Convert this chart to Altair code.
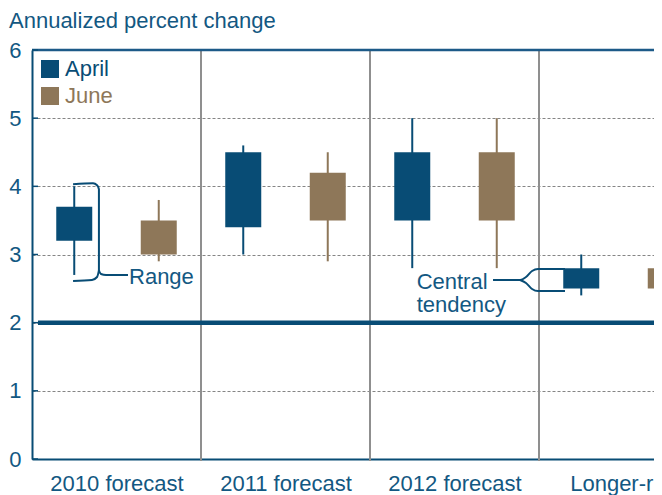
import json
import altair as alt
import pandas as pd

# ---------------- data ----------------
categories = ["2010 forecast", "2011 forecast", "2012 forecast", "Longer-run"]
series = ["April", "June"]
april_range_low = [2.7, 3.0, 2.8, 2.4]
april_range_high = [4.0, 4.6, 5.0, 3.0]
april_ct_low = [3.2, 3.4, 3.5, 2.5]
april_ct_high = [3.7, 4.5, 4.5, 2.8]
june_range_low = [2.9, 2.9, 2.8, 2.4]
june_range_high = [3.8, 4.5, 5.0, 3.0]
june_ct_low = [3.0, 3.5, 3.5, 2.5]
june_ct_high = [3.5, 4.2, 4.5, 2.8]
y_ticks = [0, 1, 2, 3, 4, 5, 6]
reference_value = [2]
separators = [1, 2, 3]

# annotation brackets (category units, percent units)
range_path_x = [0.243, 0.361, 0.385, 0.396, 0.396, 0.408, 0.438, 0.568]
range_path_y = [4.03, 4.044, 4.015, 3.956, 2.768, 2.714, 2.699, 2.699]
range_low_x = [0.396, 0.385, 0.355, 0.243]
range_low_y = [2.768, 2.670, 2.626, 2.611]
ct_up_x = [2.728, 2.888, 2.923, 2.959, 2.994, 3.154]
ct_up_y = [2.626, 2.626, 2.670, 2.758, 2.787, 2.787]
ct_dn_x = [2.888, 2.923, 2.959, 2.994, 3.154]
ct_dn_y = [2.626, 2.582, 2.494, 2.464, 2.464]
labels_text = ["Range", "Central", "tendency"]
labels_x = [0.574, 2.276, 2.276]
labels_y = [2.67, 2.60, 2.26]

# ---------------- style ----------------
BLUE = "#084c75"
BORDER = "#1c5a88"
TAN = "#8e7759"
TXT = "#135882"
FONT = "Liberation Sans"
FS = 22
PX_PER_CAT = 169
W = 622
H = 409
XMAX = W / PX_PER_CAT

rows = []
for i, c in enumerate(categories):
    rows.append(dict(cat=c, series="April", pos=i + 0.25, rlo=april_range_low[i],
                     rhi=april_range_high[i], clo=april_ct_low[i], chi=april_ct_high[i]))
    rows.append(dict(cat=c, series="June", pos=i + 0.75, rlo=june_range_low[i],
                     rhi=june_range_high[i], clo=june_ct_low[i], chi=june_ct_high[i]))
df = pd.DataFrame(rows)

xs = alt.Scale(domain=[0, XMAX], nice=False, zero=False, padding=0)
ys = alt.Scale(domain=[0, 6], nice=False, zero=False, padding=0)
color = alt.Color("series:N", scale=alt.Scale(domain=series, range=[BLUE, TAN]), legend=None)

label_expr = json.dumps(categories) + "[floor(datum.value)]"

x_axis = alt.Axis(values=[0.5, 1.5, 2.5, 3.5], labelExpr=label_expr, ticks=False, grid=False,
                  domainColor=BLUE, domainWidth=2, labelFontSize=FS, labelColor=TXT,
                  labelFont=FONT, labelPadding=14, labelFlush=False, labelOverlap=False,
                  title=None)
y_axis = alt.Axis(values=y_ticks, ticks=False, grid=True, gridDash=[3, 2], gridColor="#858585",
                  gridWidth=1, domainColor=BLUE, domainWidth=2, labelFontSize=FS,
                  labelColor=TXT, labelFont=FONT, labelPadding=11, title=None)


def X(f):
    return alt.X(f, scale=xs, axis=x_axis)


def Y(f):
    return alt.Y(f, scale=ys, axis=y_axis)


base = alt.Chart(df)

seps = alt.Chart(pd.DataFrame({"s": separators})).mark_rule(color="#8f8f8f", strokeWidth=2).encode(
    x=X("s:Q"), y=alt.value(0), y2=alt.value(H + 2))

top_border = alt.Chart(pd.DataFrame({"t": [6]})).mark_rule(color=BORDER, strokeWidth=2.5).encode(
    y=Y("t:Q"), x=alt.value(0), x2=alt.value(W))

ytick_rules = alt.Chart(pd.DataFrame({"t": y_ticks})).mark_rule(color=BLUE, strokeWidth=1.5).encode(
    y=Y("t:Q"), x=alt.value(0), x2=alt.value(6))

ref_line = alt.Chart(pd.DataFrame({"r": reference_value})).mark_rule(color=BLUE, strokeWidth=4.5).encode(
    y=Y("r:Q"), x=alt.value(6), x2=alt.value(W))

whiskers = base.mark_rule(strokeWidth=2, clip=True).encode(
    x=X("pos:Q"), y=Y("rlo:Q"), y2="rhi:Q", color=color)

boxes = base.mark_bar(size=36, orient="vertical", clip=True).encode(
    x=X("pos:Q"), y=Y("clo:Q"), y2="chi:Q", color=color)

paths = []
for pid, (px, py) in enumerate([(range_path_x, range_path_y), (range_low_x, range_low_y),
                                (ct_up_x, ct_up_y), (ct_dn_x, ct_dn_y)]):
    for k, (a, b) in enumerate(zip(px, py)):
        paths.append(dict(pid=pid, k=k, bx=a, by=b))
brackets = alt.Chart(pd.DataFrame(paths)).mark_line(color=BLUE, strokeWidth=2, interpolate="monotone").encode(
    x=X("bx:Q"), y=Y("by:Q"), detail="pid:N", order="k:Q")

ann = alt.Chart(pd.DataFrame({"txt": labels_text, "lx": labels_x, "ly": labels_y})).mark_text(
    align="left", baseline="middle", fontSize=FS, font=FONT, color=TXT).encode(
    x=X("lx:Q"), y=Y("ly:Q"), text="txt:N")

legend_layers = []
for j, (s, col) in enumerate(zip(series, [BLUE, TAN])):
    ld = pd.DataFrame({"name": [s]})
    legend_layers.append(alt.Chart(ld).mark_square(size=324, color=col, opacity=1).encode(
        x=alt.value(18), y=alt.value(19 + 27 * j)))
    legend_layers.append(alt.Chart(ld).mark_text(align="left", baseline="middle", fontSize=FS,
                                                 font=FONT, color=col).encode(
        x=alt.value(33), y=alt.value(19 + 27 * j), text="name:N"))

title = alt.Chart(pd.DataFrame({"t": ["Annualized percent change"]})).mark_text(
    align="left", baseline="middle", fontSize=FS, font=FONT, color=TXT).encode(
    x=alt.value(-23), y=alt.value(-29), text="t:N")

chart = alt.layer(seps, top_border, ytick_rules, whiskers, boxes, ref_line, brackets, ann,
                  *legend_layers, title).properties(
    width=W, height=H,
    autosize=alt.AutoSizeParams(type="none"),
    padding={"left": 24, "top": 42, "right": 0, "bottom": 36},
).configure(font=FONT).configure_view(stroke=None)

chart.save("out.html", embed_options={"renderer": "svg", "actions": False})
